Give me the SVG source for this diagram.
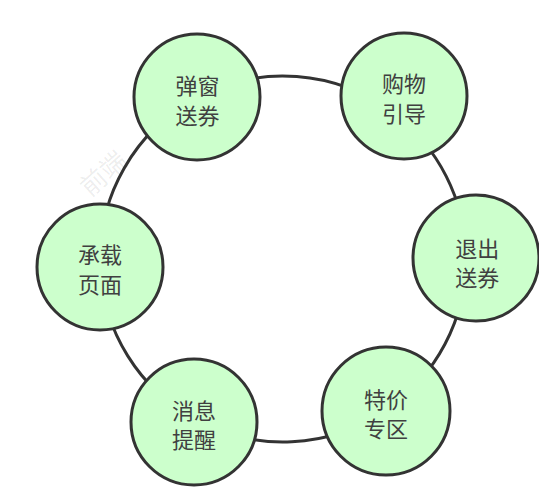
<svg xmlns="http://www.w3.org/2000/svg" width="539" height="498" viewBox="0 0 539 498">
  <style>
    .node circle { fill: #ccffcc; stroke: #333333; stroke-width: 3; }
    .node text { font-family: "Noto Sans CJK SC", "Noto Sans", sans-serif; font-size: 22px; fill: #404040; text-anchor: middle; }
    .link { fill: none; stroke: #333333; stroke-width: 3; }
    .wm { font-family: "Noto Sans CJK SC", sans-serif; font-size: 26px; fill: #000000; fill-opacity: 0.08; }
  </style>
  <rect width="539" height="498" fill="#ffffff"/>
  <text class="wm" transform="translate(90.3,197.8) rotate(-42)">前端</text>
  <g id="connectors">
    <path class="link" d="M197.2,97.4 A183,183 0 0 1 392.1,112.1"/>
    <path class="link" d="M392.1,112.1 A183,183 0 0 1 466,258"/>
    <path class="link" d="M466,258 A183,183 0 0 1 385.6,410.5"/>
    <path class="link" d="M385.6,410.5 A183,183 0 0 1 195.4,419.7"/>
    <path class="link" d="M195.4,419.7 A183,183 0 0 1 100.2,267"/>
    <path class="link" d="M100.2,267 A183,183 0 0 1 197.2,97.4"/>
  </g>
  <g id="node-popup" class="node">
    <circle cx="197" cy="97" r="63"/>
    <text x="197.5" y="94.4">弹窗<tspan x="197.5" dy="29.3">送券</tspan></text>
  </g>
  <g id="node-shopping" class="node">
    <circle cx="404" cy="96" r="63"/>
    <text x="404" y="92.1">购物<tspan x="404" dy="29.6">引导</tspan></text>
  </g>
  <g id="node-exit" class="node">
    <circle cx="476" cy="258" r="63"/>
    <text x="477.3" y="256.7">退出<tspan x="477.3" dy="29.3">送券</tspan></text>
  </g>
  <g id="node-special" class="node">
    <circle cx="386" cy="411" r="64"/>
    <text x="386" y="407.8">特价<tspan x="386" dy="29.3">专区</tspan></text>
  </g>
  <g id="node-message" class="node">
    <circle cx="194" cy="422" r="63"/>
    <text x="194" y="418.6">消息<tspan x="194" dy="29.3">提醒</tspan></text>
  </g>
  <g id="node-page" class="node">
    <circle cx="100" cy="267" r="63"/>
    <text x="100" y="263.4">承载<tspan x="100" dy="30">页面</tspan></text>
  </g>
</svg>
